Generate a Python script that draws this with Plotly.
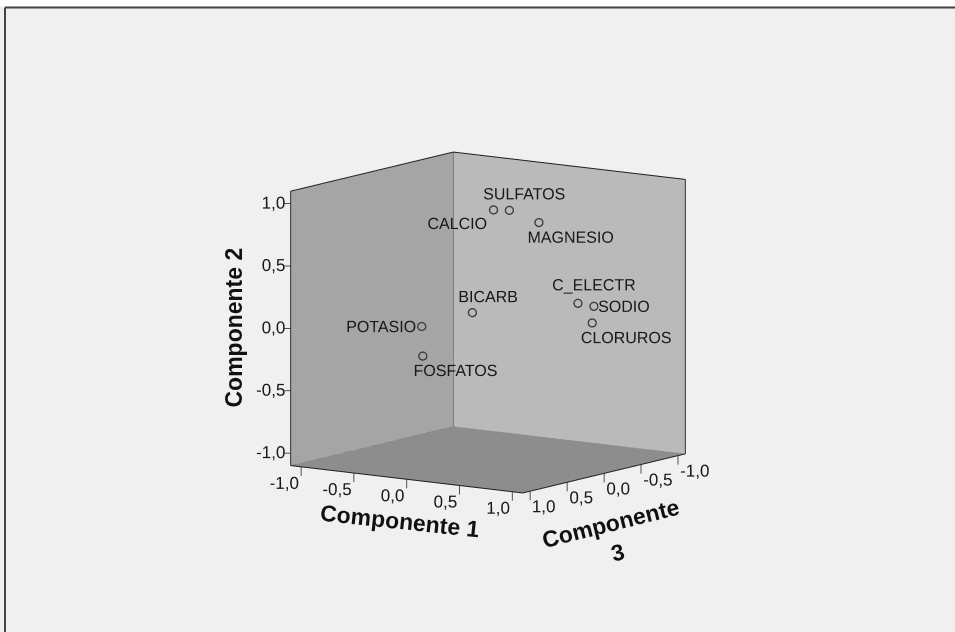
import plotly.graph_objects as go
import math

# ---- data (component loadings) ----
variables = ["CALCIO", "SULFATOS", "MAGNESIO", "C_ELECTR", "SODIO",
             "CLORUROS", "BICARB", "POTASIO", "FOSFATOS"]
comp1 = [0.12, 0.20, 0.48, 0.885, 0.966, 0.95, 0.13, -0.07, -0.06]
comp2 = [0.93, 0.92, 0.85, 0.25, 0.22, 0.085, 0.15, 0.076, -0.16]
comp3 = [0.10, 0.00, 0.00, 0.05, -0.05, -0.05, 0.40, 0.80, 0.80]

tick_vals = [-1.0, -0.5, 0.0, 0.5, 1.0]
tick_text = ["-1,0", "-0,5", "0,0", "0,5", "1,0"]

# ---- style / layout settings ----
# label placement: centre of each point label relative to its marker, in screen pixels (right, down)
label_offset_px = [(-36, 13.5), (15, -16.5), (32, 14.5), (16, -17), (30, 0),
                   (34, 14.5), (16, -16), (-40, 0), (33, 14.3)]
R = 1.1    # box half-width (data units)
RA = 1.3   # scene range half-width (room for ticks and labels outside the box)
FONT = "Liberation Sans, Arial"

el = math.radians(9.7)
th = math.radians(35.0)
d = 1.75
eye = dict(x=d * math.cos(el) * math.cos(th), y=d * math.cos(el) * math.sin(th), z=d * math.sin(el))

sx = 1.136 * RA / R
sz = 0.976 * (275 / 229) * RA / R * 0.952

# approximate pixel scale of the projection (used for small text / tick offsets)
K = 393 / (2 * R * (math.cos(th) + math.sin(th)))       # px per unit, horizontal in-plane
KZ = K * (sz / sx) * math.cos(el)                          # px per unit of vertical axis


def shift(px_right, px_up):
    """data-space offset that moves a point by the given screen pixels"""
    return (-math.sin(th) * px_right / K, math.cos(th) * px_right / K, px_up / KZ)


fig = go.Figure()

# ---- walls (plotly x = Componente 3, y = Componente 1, z = Componente 2) ----
flat = dict(ambient=1.0, diffuse=0.0, specular=0.0, roughness=1.0, fresnel=0.0)
walls = [
    ("#a5a5a5", [-R, R, R, -R], [-R, -R, -R, -R], [-R, -R, R, R]),   # Componente 1 = -R wall
    ("#bababa", [-R, -R, -R, -R], [-R, R, R, -R], [-R, -R, R, R]),   # Componente 3 = -R wall
    ("#8d8d8d", [-R, R, R, -R], [-R, -R, R, R], [-R, -R, -R, -R]),   # floor
]
for col, wx, wy, wz in walls:
    fig.add_trace(go.Mesh3d(x=wx, y=wy, z=wz, i=[0, 0], j=[1, 2], k=[2, 3],
                            color=col, flatshading=True, lighting=flat,
                            hoverinfo="skip", showscale=False, showlegend=False))

# box outline
ex, ey, ez = [], [], []
edges = [
    ((-R, -R, -R), (-R, -R, R)),
    ((R, -R, -R), (R, -R, R)),
    ((-R, R, -R), (-R, R, R)),
    ((-R, -R, R), (R, -R, R)),
    ((-R, -R, R), (-R, R, R)),
    ((-R, -R, -R), (R, -R, -R)),
    ((-R, -R, -R), (-R, R, -R)),
    ((R, -R, -R), (R, R, -R)),
    ((-R, R, -R), (R, R, -R)),
]
for a, b in edges:
    ex += [a[0], b[0], None]
    ey += [a[1], b[1], None]
    ez += [a[2], b[2], None]
fig.add_trace(go.Scatter3d(x=ex, y=ey, z=ez, mode="lines",
                           line=dict(color="#1e1e1e", width=2),
                           hoverinfo="skip", showlegend=False))

# tick marks
tx, ty, tz = [], [], []
s_left = shift(-6, 0)
s_down = shift(0, -9)
for v in tick_vals:
    tx += [R, R + s_left[0], None]; ty += [-R, -R + s_left[1], None]; tz += [v, v, None]      # Comp 2
    tx += [R, R, None]; ty += [v, v, None]; tz += [-R, -R + s_down[2], None]                  # Comp 1
    tx += [v, v, None]; ty += [R, R, None]; tz += [-R, -R + s_down[2], None]                  # Comp 3
fig.add_trace(go.Scatter3d(x=tx, y=ty, z=tz, mode="lines",
                           line=dict(color="#1e1e1e", width=1.5),
                           hoverinfo="skip", showlegend=False))

# points (markers)
fig.add_trace(go.Scatter3d(
    x=comp3, y=comp1, z=comp2, mode="markers",
    marker=dict(symbol="circle-open", size=5, color="#333333", line=dict(width=1.2)),
    text=variables, hoverinfo="text", showlegend=False))

# point labels
lx_, ly_, lz_ = [], [], []
for c3, c1, c2, (dxp, dyp) in zip(comp3, comp1, comp2, label_offset_px):
    o = shift(dxp, -dyp)
    lx_.append(c3 + o[0]); ly_.append(c1 + o[1]); lz_.append(c2 + o[2])
fig.add_trace(go.Scatter3d(
    x=lx_, y=ly_, z=lz_, mode="text", text=variables, textposition="middle center",
    textfont=dict(family=FONT, size=16, color="#1a1a1a"),
    hoverinfo="skip", showlegend=False))

# tick labels (plotly places 'left/bottom/right' text about one font size away from the anchor)
n = len(tick_vals)
tickfont = dict(family=FONT, size=17, color="#1a1a1a")
a2 = shift(11, 0)
fig.add_trace(go.Scatter3d(  # Componente 2
    x=[R + a2[0]] * n, y=[-R + a2[1]] * n, z=tick_vals, mode="text",
    text=tick_text, textposition="middle left",
    textfont=tickfont, hoverinfo="skip", showlegend=False))
a1 = shift(14, 7)
fig.add_trace(go.Scatter3d(  # Componente 1
    x=[R + a1[0]] * n, y=[v + a1[1] for v in tick_vals], z=[-R + a1[2]] * n, mode="text",
    text=tick_text, textposition="bottom left",
    textfont=tickfont, hoverinfo="skip", showlegend=False))
a3 = shift(-14, 8)
fig.add_trace(go.Scatter3d(  # Componente 3
    x=[v + a3[0] for v in tick_vals], y=[R + a3[1]] * n, z=[-R + a3[2]] * n, mode="text",
    text=tick_text, textposition="bottom right",
    textfont=tickfont, hoverinfo="skip", showlegend=False))

axis_common = dict(
    range=[-RA, RA], autorange=False,
    showticklabels=False, ticks="",
    showgrid=False, zeroline=False, showline=False,
    showbackground=False, showspikes=False,
    title=dict(text=""),
)

cx, cy = 488.5 / 955, 1 - 323 / 632
title_font = dict(family=FONT, size=23, color="#111111", weight="bold")

fig.update_layout(
    width=955, height=632,
    margin=dict(l=0, r=0, t=0, b=0),
    paper_bgcolor="#f0f0f0",
    hovermode="closest",
    scene=dict(
        domain=dict(x=[cx - 0.31, cx + 0.31], y=[cy - 0.395, cy + 0.395]),
        xaxis=axis_common, yaxis=axis_common, zaxis=axis_common,
        aspectmode="manual", aspectratio=dict(x=sx, y=sx, z=sz),
        camera=dict(eye=eye, up=dict(x=0, y=0, z=1), center=dict(x=0, y=0, z=0),
                    projection=dict(type="orthographic")),
        bgcolor="#f0f0f0",
    ),
    annotations=[
        dict(text="Componente 2", x=233 / 955, y=1 - 327.5 / 632, xref="paper", yref="paper",
             textangle=-90, showarrow=False, font=title_font, xanchor="center", yanchor="middle"),
        dict(text="Componente 1", x=400 / 955, y=1 - 521 / 632, xref="paper", yref="paper",
             textangle=6, showarrow=False, font=title_font, xanchor="center", yanchor="middle"),
        dict(text="Componente<br>3", x=614 / 955, y=1 - 538 / 632, xref="paper", yref="paper",
             textangle=-14, showarrow=False, font=title_font, xanchor="center", yanchor="middle"),
    ],
    shapes=[
        dict(type="rect", xref="paper", yref="paper", x0=0, x1=1, y0=1 - 6 / 632, y1=1,
             fillcolor="#ffffff", line=dict(width=0), layer="below"),
        dict(type="line", xref="paper", yref="paper", x0=5 / 955, x1=1, y0=1 - 7.5 / 632, y1=1 - 7.5 / 632,
             line=dict(color="#444444", width=2)),
        dict(type="line", xref="paper", yref="paper", x0=5 / 955, x1=5 / 955, y0=0, y1=1 - 7.5 / 632,
             line=dict(color="#444444", width=2)),
    ],
)

fig.write_html("out.html", config={"displayModeBar": False},
               post_script="document.body.style.margin='0px';document.body.style.overflow='hidden';")
